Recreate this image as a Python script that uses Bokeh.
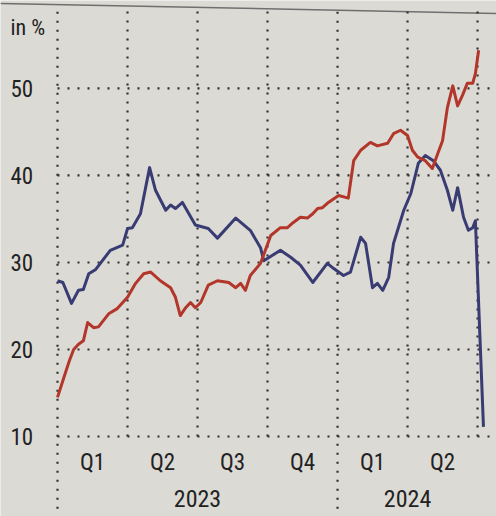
from bokeh.plotting import figure
from bokeh.models import Range1d
from bokeh.core.properties import value
from bokeh.embed import file_html
from bokeh.resources import INLINE

# x positions are weeks counted from the start of 2023 (13 weeks per quarter)
red_weeks = [0, 1.2, 2.2, 3.0, 3.9, 4.8, 5.6, 6.7, 7.6, 9.5, 11.1, 13.0, 14.5, 16.0,
             17.3, 19.1, 21.0, 21.9, 22.8, 23.8, 24.7, 25.6, 26.6, 28.0, 29.7, 31.8,
             33.1, 34.0, 34.9, 35.8, 37.7, 39.6, 41.4, 42.7, 43.8, 45.1, 46.4, 47.4,
             48.3, 49.2, 50.1, 52.2, 54.0, 55.0, 56.3, 58.1, 59.4, 61.3, 62.4, 63.7,
             65.0, 65.9, 66.9, 68.3, 69.6, 70.6, 71.5, 72.4, 73.4, 74.3, 75.2, 76.1,
             77.1, 77.6, 78.2]
red_values = [14.5, 16.8, 18.7, 20.0, 20.6, 21.0, 23.1, 22.5, 22.6, 24.1, 24.7, 26.0,
              27.6, 28.7, 28.9, 27.9, 27.1, 26.0, 23.9, 24.8, 25.4, 24.8, 25.4, 27.4,
              27.9, 27.7, 27.1, 27.6, 26.8, 28.5, 29.9, 33.1, 34.0, 34.0, 34.6, 35.2,
              35.1, 35.6, 36.2, 36.3, 36.8, 37.7, 37.4, 41.7, 42.9, 43.8, 43.4, 43.7,
              44.8, 45.2, 44.6, 42.9, 42.1, 41.7, 40.8, 42.5, 44.0, 47.8, 50.3, 48.0,
              49.2, 50.6, 50.6, 51.7, 54.4]

blue_weeks = [0, 1.0, 2.6, 3.9, 4.8, 5.8, 7.1, 9.8, 12.1, 13.0, 13.9, 15.4, 17.1, 18.2,
              20.1, 21.0, 21.9, 23.2, 25.6, 28.0, 29.7, 33.1, 35.8, 37.7, 38.3, 41.4,
              43.3, 45.1, 47.4, 50.1, 51.3, 53.1, 54.4, 56.3, 57.2, 58.5, 59.4, 60.4,
              61.5, 62.4, 64.3, 65.6, 67.0, 68.3, 69.8, 71.1, 72.4, 73.4, 74.3, 75.4,
              76.3, 77.1, 77.6, 79.1]
blue_values = [27.9, 27.7, 25.3, 26.8, 26.9, 28.7, 29.2, 31.4, 32.0, 33.9, 34.0, 35.6,
               40.9, 38.3, 36.0, 36.6, 36.2, 36.9, 34.3, 33.9, 32.8, 35.1, 33.7, 31.7,
               30.2, 31.4, 30.6, 29.7, 27.7, 29.9, 29.3, 28.5, 28.9, 32.9, 32.2, 27.1,
               27.6, 26.8, 28.3, 32.2, 36.0, 37.9, 41.4, 42.3, 41.7, 40.6, 38.3, 36.0,
               38.6, 35.2, 33.7, 34.0, 34.8, 11.1]

y_ticks = [10, 20, 30, 40, 50]
quarter_edges = [0, 13, 26, 39, 52, 65, 78]
quarter_labels = ["Q1", "Q2", "Q3", "Q4", "Q1", "Q2"]
year_labels = ["2023", "2024"]
year_edges = [0, 52, 78]

FONT = value("'Roboto Condensed', 'Liberation Sans Narrow', 'DejaVu Sans Condensed', 'Open Sans'")
INK = "#222222"
DOTS = "#303030"
PAPER = "#dcdad5"

p = figure(width=496, height=516, output_backend="svg", toolbar_location=None,
           x_range=Range1d(-10.585, 81.52), y_range=Range1d(0.805, 60.11),
           min_border=0, min_border_left=0, min_border_right=0,
           min_border_top=0, min_border_bottom=0)
p.axis.visible = False
p.grid.visible = False
p.outline_line_color = None
p.background_fill_color = PAPER
p.border_fill_color = PAPER

# rule across the top
p.segment(x0=[-10.585], y0=[59.77], x1=[81.52], y1=[58.62],
          line_color="#6f6f6f", line_width=1.5)

# dotted horizontal grid
p.segment(x0=[0] * len(y_ticks), y0=y_ticks, x1=[81.52] * len(y_ticks), y1=y_ticks,
          line_color=DOTS, line_width=2.2, line_dash="2 8")

# dotted quarter grid; year boundaries run down past the axis
bottoms = [1.7 if e in year_edges[:-1] else 10 for e in quarter_edges]
p.segment(x0=quarter_edges, y0=bottoms, x1=quarter_edges, y1=[59.4] * len(quarter_edges),
          line_color=DOTS, line_width=2.2, line_dash="2 7")

# series
p.line(blue_weeks, blue_values, line_color="#383c72", line_width=3, line_join="round")
p.line(red_weeks, red_values, line_color="#b3362b", line_width=3, line_join="round")

# y tick labels
p.text(x=[0] * len(y_ticks), y=y_ticks, text=[str(t) for t in y_ticks],
       x_offset=-47, text_align="left", text_baseline="middle",
       text_font=FONT, text_font_size="23px", text_color=INK)
p.text(x=[0], y=[50], text=["in %"], x_offset=-47, y_offset=-61,
       text_align="left", text_baseline="alphabetic",
       text_font=FONT, text_font_size="22px", text_color=INK)

# quarter and year labels
q_mid = [(a + b) / 2 for a, b in zip(quarter_edges[:-1], quarter_edges[1:])]
p.text(x=q_mid, y=[10] * len(q_mid), text=quarter_labels, y_offset=26,
       text_align="center", text_baseline="middle",
       text_font=FONT, text_font_size="23px", text_color=INK)
y_mid = [(a + b) / 2 for a, b in zip(year_edges[:-1], year_edges[1:])]
p.text(x=y_mid, y=[10] * len(y_mid), text=year_labels, y_offset=62,
       text_align="center", text_baseline="middle",
       text_font=FONT, text_font_size="24px", text_color=INK)

open("out.html", "w").write(file_html(p, INLINE))
